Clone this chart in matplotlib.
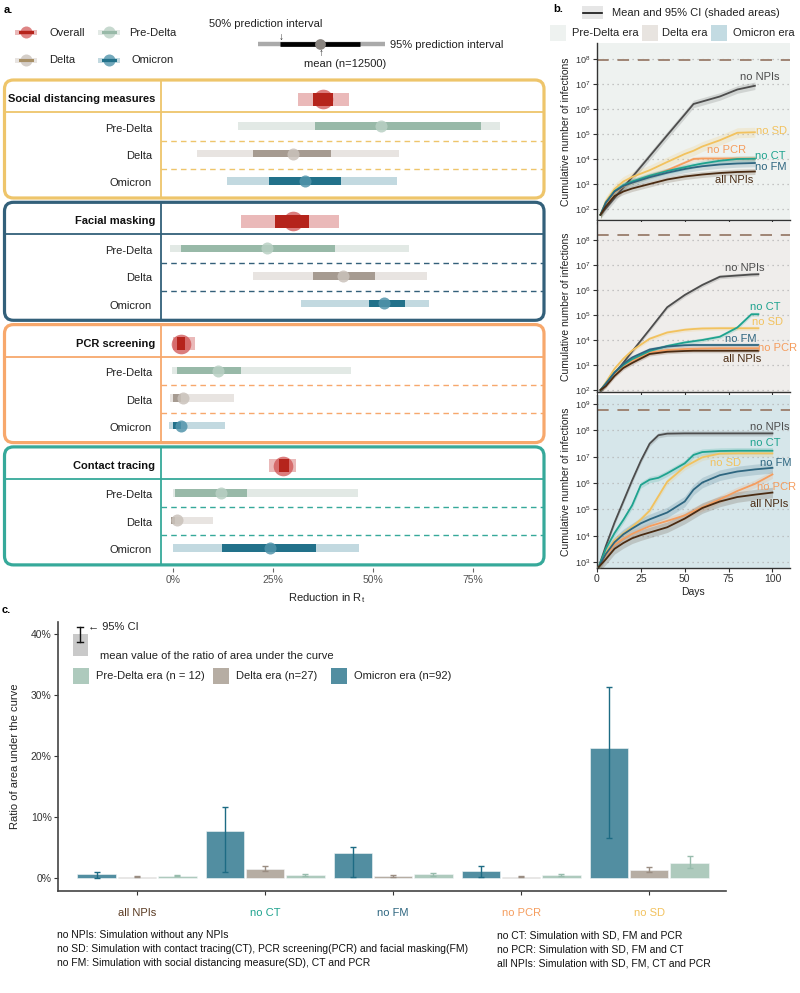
import matplotlib
matplotlib.use("Agg")
import matplotlib.pyplot as plt
import numpy as np
from matplotlib.patches import FancyBboxPatch, Rectangle

plt.rcParams['font.family'] = ['Liberation Sans', 'DejaVu Sans']
plt.rcParams['mathtext.fontset'] = 'custom'
plt.rcParams['mathtext.rm'] = 'Liberation Sans'

W, H = 800, 993

# ---------------- Panel a data (reduction in Rt, %) ----------------
measures = ["Social distancing measures", "Facial masking", "PCR screening", "Contact tracing"]
eras = ["Pre-Delta", "Delta", "Omicron"]
overall_mean = [37.5, 30.0, 2.0, 27.5]
overall_pi50 = [(35.0, 40.0), (25.5, 34.0), (1.0, 3.0), (26.5, 29.0)]
overall_pi95 = [(31.25, 44.0), (17.0, 41.5), (0.0, 5.5), (24.0, 30.75)]
era_mean = {"Pre-Delta": [52.0, 23.5, 11.25, 12.0],
            "Delta": [30.0, 42.5, 2.5, 1.0],
            "Omicron": [33.0, 52.75, 2.0, 24.25]}
era_pi50 = {"Pre-Delta": [(35.5, 77.0), (2.0, 40.5), (1.0, 17.0), (0.5, 18.5)],
            "Delta": [(20.0, 39.5), (35.0, 50.5), (0.0, 2.0), (-0.5, 0.5)],
            "Omicron": [(24.0, 42.0), (49.0, 58.0), (0.0, 2.0), (12.25, 35.75)]}
era_pi95 = {"Pre-Delta": [(16.25, 81.75), (-0.75, 59.0), (-0.25, 44.5), (0.0, 46.25)],
            "Delta": [(6.0, 56.5), (20.0, 63.5), (-0.75, 15.25), (-0.5, 10.0)],
            "Omicron": [(13.5, 56.0), (32.0, 64.0), (-1.0, 13.0), (0.0, 46.5)]}
xticks_a = [0, 25, 50, 75]
xticklabels_a = ["0%", "25%", "50%", "75%"]

# ---------------- Panel b data (log10 cumulative infections) ----------------
series_names = ["no NPIs", "no SD", "no PCR", "no CT", "no FM", "all NPIs"]
days_pre = [2, 5, 10, 15, 20, 30, 40, 50, 55, 60, 70, 80, 90]
log_pre = {
    "no NPIs": [1.77, 2.02, 2.44, 2.86, 3.27, 4.11, 4.95, 5.78, 6.2, 6.3, 6.5, 6.78, 6.93],
    "no SD": [1.77, 2.3, 2.8, 3.1, 3.28, 3.55, 3.88, 4.2, 4.33, 4.5, 4.75, 5.05, 5.07],
    "no PCR": [1.77, 2.2, 2.67, 2.9, 3.05, 3.3, 3.55, 3.85, 4.0, 4.02, 4.02, 4.02, 4.02],
    "no CT": [1.77, 2.25, 2.72, 2.95, 3.1, 3.33, 3.52, 3.67, 3.75, 3.82, 3.93, 4.0, 4.01],
    "no FM": [1.77, 2.25, 2.7, 2.92, 3.05, 3.27, 3.45, 3.6, 3.66, 3.71, 3.78, 3.82, 3.84],
    "all NPIs": [1.77, 2.1, 2.52, 2.7, 2.82, 3.0, 3.18, 3.3, 3.34, 3.38, 3.44, 3.48, 3.5],
}
ci_pre = {"no NPIs": 0.15, "no SD": 0.2, "no PCR": 0.1, "no CT": 0.12, "no FM": 0.15, "all NPIs": 0.12}
days_delta = [2, 5, 10, 15, 20, 30, 40, 50, 55, 60, 70, 80, 88, 92]
log_delta = {
    "no NPIs": [1.94, 2.2, 2.65, 3.09, 3.54, 4.42, 5.31, 5.8, 6.0, 6.2, 6.53, 6.58, 6.62, 6.63],
    "no SD": [2.0, 2.3, 2.85, 3.25, 3.58, 4.05, 4.3, 4.41, 4.44, 4.46, 4.47, 4.47, 4.47, 4.47],
    "no PCR": [2.0, 2.2, 2.63, 2.95, 3.17, 3.5, 3.6, 3.64, 3.65, 3.66, 3.67, 3.67, 3.67, 3.67],
    "no CT": [2.0, 2.25, 2.7, 3.0, 3.23, 3.56, 3.76, 3.9, 3.95, 4.0, 4.13, 4.5, 5.03, 5.03],
    "no FM": [2.0, 2.25, 2.7, 3.05, 3.3, 3.62, 3.74, 3.79, 3.8, 3.8, 3.8, 3.8, 3.8, 3.8],
    "all NPIs": [2.0, 2.15, 2.56, 2.88, 3.08, 3.44, 3.53, 3.56, 3.57, 3.57, 3.57, 3.57, 3.57, 3.57],
}
ci_delta = {"no NPIs": 0.08, "no SD": 0.08, "no PCR": 0.1, "no CT": 0.08, "no FM": 0.08, "all NPIs": 0.08}
days_omi = [1, 5, 10, 15, 20, 25, 30, 35, 40, 50, 55, 60, 70, 80, 90, 100]
log_omi = {
    "no NPIs": [2.81, 3.6, 4.5, 5.3, 6.1, 6.85, 7.5, 7.82, 7.88, 7.89, 7.89, 7.89, 7.89, 7.89, 7.89, 7.89],
    "no SD": [2.81, 3.35, 3.82, 4.08, 4.33, 4.62, 4.95, 5.5, 6.05, 6.62, 6.8, 6.98, 7.12, 7.13, 7.13, 7.13],
    "no PCR": [2.81, 3.25, 3.66, 3.88, 4.07, 4.22, 4.36, 4.46, 4.56, 4.77, 4.93, 5.08, 5.38, 5.7, 5.97, 6.33],
    "no CT": [2.81, 3.5, 4.1, 4.6, 5.15, 5.93, 6.13, 6.2, 6.37, 6.75, 7.07, 7.18, 7.22, 7.23, 7.23, 7.23],
    "no FM": [2.81, 3.3, 3.75, 4.05, 4.27, 4.47, 4.62, 4.75, 4.88, 5.3, 5.75, 6.02, 6.3, 6.44, 6.52, 6.58],
    "all NPIs": [2.81, 3.1, 3.5, 3.72, 3.9, 4.02, 4.12, 4.22, 4.32, 4.65, 4.85, 5.05, 5.3, 5.47, 5.56, 5.64],
}
ci_omi = {"no NPIs": 0.1, "no SD": 0.12, "no PCR": 0.15, "no CT": 0.12, "no FM": 0.2, "all NPIs": 0.2}
population = [9.5e7, 1.6e8, 5.9e8]

# ---------------- Panel c data (ratio of AUC, %) ----------------
cats = ["all NPIs", "no CT", "no FM", "no PCR", "no SD"]
omicron_mean = [0.71, 7.74, 4.03, 1.14, 21.3]
omicron_lo = [0.0, 0.98, 0.16, 0.1, 6.5]
omicron_hi = [1.0, 11.66, 5.12, 1.9, 31.3]
delta_mean = [0.2, 1.53, 0.33, 0.22, 1.3]
delta_lo = [0.1, 1.2, 0.2, 0.12, 0.93]
delta_hi = [0.3, 2.0, 0.49, 0.33, 1.8]
pre_mean = [0.4, 0.49, 0.6, 0.49, 2.45]
pre_lo = [0.25, 0.27, 0.38, 0.33, 1.63]
pre_hi = [0.55, 0.7, 0.87, 0.65, 3.65]

# ---------------- styles ----------------
box_colors = ["#eec56b", "#33607a", "#f7a86c", "#36a99a"]
era_style = {
    "Pre-Delta": dict(light="#e2e9e5", dark="#98b9a8", circ="#b9d0c4"),
    "Delta": dict(light="#e8e4e1", dark="#a69b91", circ="#cac2bb"),
    "Omicron": dict(light="#c2d9e0", dark="#22718a", circ="#5194ab"),
}
ov_light, ov_dark, ov_circ = "#eab9b9", "#b5241c", "#d05252"
line_colors = {"no NPIs": "#4d4d4d", "no SD": "#f2c25e", "no PCR": "#f59d5e",
               "no CT": "#1fa38f", "no FM": "#2e6680", "all NPIs": "#4a2b12"}
cat_colors = ["#5a3a22", "#1fa38f", "#2e6680", "#f59d5e", "#f2c25e"]
bg_colors = ["#eef2f0", "#efedeb", "#d6e6ea"]
c_omi, c_delta, c_pre = "#528ea1", "#b6ada3", "#aecabd"
e_omi, e_delta, e_pre = "#1d6b84", "#9a8d82", "#98bcad"

fig = plt.figure(figsize=(8, 9.93), dpi=100)


def ax_px(l, t, r, b, **kw):
    return fig.add_axes([l / W, 1 - b / H, (r - l) / W, (b - t) / H], **kw)


# ================= Panel a =================
A_TOP, A_BOT = 78, 568
ax_a = ax_px(3, A_TOP, 545, A_BOT)
ax_a.set_xlim(-42.5, 93)
ax_a.set_ylim(A_BOT, A_TOP)
for s in ax_a.spines.values():
    s.set_visible(False)
ax_a.set_yticks([])
ax_a.set_xticks(xticks_a)
ax_a.set_xticklabels(xticklabels_a, fontsize=7.5, color="#555555")
ax_a.tick_params(axis="x", length=3, color="#666666", pad=2)
ax_a.patch.set_alpha(0)

box_tops = [80 + 122.3 * i for i in range(len(measures))]
BOX_H = 118
row_off = [19, 46, 73.5, 101]
for i, m in enumerate(measures):
    top = box_tops[i]
    yh = top + row_off[0]
    lo95, hi95 = overall_pi95[i]
    lo50, hi50 = overall_pi50[i]
    ax_a.barh(yh, hi95 - lo95, left=lo95, height=13, color=ov_light, lw=0, zorder=2)
    ax_a.scatter([overall_mean[i]], [yh], s=200, color=ov_circ, alpha=0.75, lw=0, zorder=3)
    ax_a.barh(yh, hi50 - lo50, left=lo50, height=13, color=ov_dark, lw=0, zorder=4)
    for j, e in enumerate(eras):
        y = top + row_off[j + 1]
        st = era_style[e]
        l95, h95 = era_pi95[e][i]
        l50, h50 = era_pi50[e][i]
        ax_a.barh(y, h95 - l95, left=l95, height=7.5, color=st["light"], lw=0, zorder=2)
        ax_a.barh(y, h50 - l50, left=l50, height=7.5, color=st["dark"], lw=0, zorder=3)
        ax_a.scatter([era_mean[e][i]], [y], s=75, color=st["circ"], alpha=0.85, lw=0, zorder=4)

# ================= Panel b =================
b_rows = [(43, 220), (222, 392), (395, 568)]
b_ylims = [(10 ** 1.56, 10 ** 8.64), (10 ** 1.92, 10 ** 8.72), (10 ** 2.77, 10 ** 9.35)]
b_decades = [range(2, 9), range(2, 9), range(3, 10)]
b_data = [(days_pre, log_pre, ci_pre), (days_delta, log_delta, ci_delta), (days_omi, log_omi, ci_omi)]
b_axes = []
for k, (t, b) in enumerate(b_rows):
    ax = ax_px(597, t, 790, b)
    b_axes.append(ax)
    ax.set_facecolor(bg_colors[k])
    ax.set_yscale("log")
    ax.set_ylim(*b_ylims[k])
    ax.set_xlim(0, 110)
    dec = list(b_decades[k])
    ax.set_yticks([10.0 ** d for d in dec])
    ax.set_yticklabels([r"$10^{%d}$" % d for d in dec], fontsize=6.5, color="#333333")
    ax.yaxis.set_minor_locator(matplotlib.ticker.NullLocator())
    for d in dec:
        ax.axhline(10.0 ** d, color="#b5b5b5", lw=0.9, ls=(0, (1, 3)), zorder=1)
    ax.axhline(population[k], color="#9f8574", lw=1.4, ls=(0, (6, 4.5)), zorder=2)
    days, logs, cis = b_data[k]
    dd = np.array(days, dtype=float)
    for name in series_names:
        v = np.array(logs[name])
        c = line_colors[name]
        ax.fill_between(dd, 10 ** (v - cis[name]), 10 ** (v + cis[name]), color=c, alpha=0.18, lw=0, zorder=3)
        ax.plot(dd, 10 ** v, color=c, lw=1.3, zorder=4)
    for s in ["top", "right"]:
        ax.spines[s].set_visible(False)
    for s in ["left", "bottom"]:
        ax.spines[s].set_color("#333333")
        ax.spines[s].set_linewidth(1.0)
    ax.set_xticks([0, 25, 50, 75, 100])
    ax.tick_params(axis="both", length=3, color="#333333", pad=1.5)
    ax.set_ylabel("Cumulative number of infections", fontsize=7.5, color="#222222", labelpad=3)
    if k < 2:
        ax.set_xticklabels([])
    else:
        ax.set_xticklabels(["0", "25", "50", "75", "100"], fontsize=7.5, color="#333333")
        ax.set_xlabel("Days", fontsize=7.5, color="#222222", labelpad=2)

# ================= Panel c =================
ax_c = ax_px(58, 622, 726, 891)
x = np.arange(len(cats))
bw, off = 0.30, 0.315
groups = [(-off, omicron_mean, omicron_lo, omicron_hi, c_omi, e_omi),
          (0.0, delta_mean, delta_lo, delta_hi, c_delta, e_delta),
          (off, pre_mean, pre_lo, pre_hi, c_pre, e_pre)]
for dx, mean, lo, hi, col, ecol in groups:
    mean = np.array(mean)
    ax_c.bar(x + dx, mean, width=bw, color=col, edgecolor="#f4f7f8", lw=0.4, zorder=2)
    yerr = np.vstack([mean - np.array(lo), np.array(hi) - mean])
    ax_c.errorbar(x + dx, mean, yerr=yerr, fmt="none", ecolor=ecol, elinewidth=1.0, capsize=2, capthick=1.0, zorder=3)
ax_c.set_xlim(-0.617, 4.60)
ax_c.set_ylim(-2.13, 41.97)
ax_c.set_yticks([0, 10, 20, 30, 40])
ax_c.set_yticklabels(["0%", "10%", "20%", "30%", "40%"], fontsize=7.5, color="#333333")
ax_c.set_xticks(x)
ax_c.set_xticklabels(cats, fontsize=8)
for lbl, c in zip(ax_c.get_xticklabels(), cat_colors):
    lbl.set_color(c)
ax_c.tick_params(axis="x", length=3, color="#333333", pad=9)
ax_c.tick_params(axis="y", length=3, color="#333333", pad=1.5)
for s in ["top", "right"]:
    ax_c.spines[s].set_visible(False)
for s in ["left", "bottom"]:
    ax_c.spines[s].set_color("#444444")
    ax_c.spines[s].set_linewidth(1.2)
ax_c.patch.set_alpha(0)
ax_c.set_ylabel("Ratio of area under the curve", fontsize=8, color="#222222", labelpad=8)

# ================= Overlay (pixel coordinates) =================
ov = fig.add_axes([0, 0, 1, 1], zorder=10)
ov.set_xlim(0, W)
ov.set_ylim(H, 0)
ov.axis("off")
ov.patch.set_alpha(0)

FS = 8
ov.text(4, 10, "a.", fontsize=FS, fontweight="bold", va="center", ha="left")
ov.text(553, 9, "b.", fontsize=FS, fontweight="bold", va="center", ha="left")
ov.text(2, 610, "c.", fontsize=FS, fontweight="bold", va="center", ha="left")

# panel a boxes
for i, m in enumerate(measures):
    top = box_tops[i]
    col = box_colors[i]
    ov.add_patch(FancyBboxPatch((4.5, top), 539.5, BOX_H, boxstyle="round,pad=0,rounding_size=9",
                                fill=False, edgecolor=col, lw=2.3))
    ov.plot([161, 161], [top, top + BOX_H], color=col, lw=1.3)
    ov.plot([4.5, 544], [top + 32, top + 32], color=col, lw=1.3)
    for yy in (top + 60.5, top + 88.5):
        ov.plot([161, 544], [yy, yy], color=col, lw=1.0, ls=(0, (4, 3)))
    ov.text(155, top + row_off[0], m, fontsize=FS, fontweight="bold", ha="right", va="center", color="#111111")
    for j, e in enumerate(eras):
        ov.text(152, top + row_off[j + 1] + 2.5, e, fontsize=FS, ha="right", va="center", color="#222222")

ov.text(327, 598, "Reduction in R$_\\mathregular{t}$", fontsize=FS, ha="center", va="center", color="#222222")

# panel a legend glyphs
def glyph(xc, yc, light, dark, circ, alpha):
    ov.add_patch(Rectangle((xc - 11, yc - 2.5), 22, 5, color=light, lw=0, zorder=2))
    ov.scatter([xc], [yc], s=75, color=circ, alpha=alpha, lw=0, zorder=3)
    ov.add_patch(Rectangle((xc - 7.5, yc - 1.5), 15, 3, color=dark, lw=0, zorder=4))

glyph(26, 32, ov_light, ov_dark, ov_circ, 0.7)
glyph(109, 32, era_style["Pre-Delta"]["light"], era_style["Pre-Delta"]["dark"], era_style["Pre-Delta"]["circ"], 0.8)
glyph(26, 60, era_style["Delta"]["light"], "#a89066", era_style["Delta"]["circ"], 0.8)
glyph(109, 60, era_style["Omicron"]["light"], era_style["Omicron"]["dark"], era_style["Omicron"]["circ"], 0.8)
ov.text(49, 33, "Overall", fontsize=FS, va="center", ha="left", color="#222222")
ov.text(129, 33, "Pre-Delta", fontsize=FS, va="center", ha="left", color="#222222")
ov.text(49, 60, "Delta", fontsize=FS, va="center", ha="left", color="#222222")
ov.text(131, 60, "Omicron", fontsize=FS, va="center", ha="left", color="#222222")

# interval legend
ov.plot([258, 385], [44, 44], color="#aaaaaa", lw=3.2, solid_capstyle="butt")
ov.plot([280, 360], [44, 44], color="#000000", lw=3.4, solid_capstyle="butt")
ov.scatter([320], [44], s=60, color="#8a8580", lw=0, zorder=5)
ov.text(266, 24, "50% prediction interval", fontsize=FS, ha="center", va="center", color="#222222")
ov.text(281, 37, "\u2193", fontsize=7, ha="center", va="center", color="#222222")
ov.text(321, 53, "\u2191", fontsize=7, ha="center", va="center", color="#222222")
ov.text(345, 64, "mean (n=12500)", fontsize=FS, ha="center", va="center", color="#222222")
ov.text(390, 45, "95% prediction interval", fontsize=FS, ha="left", va="center", color="#222222")

# panel b legend
ov.add_patch(Rectangle((582, 6), 21, 13, color="#e6e6e6", lw=0))
ov.plot([583, 602], [12.5, 12.5], color="#111111", lw=1.2)
ov.text(612, 13, "Mean and 95% CI (shaded areas)", fontsize=FS, ha="left", va="center", color="#222222")
for xs, tx, lab, c in [(550, 572, "Pre-Delta era", bg_colors[0]), (642, 662, "Delta era", "#e8e4e0"),
                       (711, 733, "Omicron era", "#c3dbe2")]:
    ov.add_patch(Rectangle((xs, 25), 16, 16, color=c, lw=0))
    ov.text(tx, 33, lab, fontsize=FS, ha="left", va="center", color="#222222")

# panel b curve labels
curve_labels = [
    [("no NPIs", 740, 77), ("no SD", 756, 131), ("no PCR", 707, 150), ("no CT", 755, 156), ("no FM", 755, 167), ("all NPIs", 715, 180)],
    [("no NPIs", 725, 268), ("no CT", 750, 307), ("no SD", 752, 322), ("no FM", 725, 339), ("no PCR", 758, 348), ("all NPIs", 723, 359)],
    [("no NPIs", 750, 427), ("no CT", 750, 443), ("no SD", 710, 463), ("no FM", 760, 463), ("no PCR", 757, 487), ("all NPIs", 750, 504)],
]
for lst in curve_labels:
    for name, lx, ly in lst:
        ov.text(lx, ly, name, fontsize=FS, ha="left", va="center", color=line_colors[name])

# panel c legend
ov.add_patch(Rectangle((73, 634), 15, 22, color="#c9c9c9", lw=0))
ov.plot([80, 80], [627, 642], color="#111111", lw=1.0)
ov.plot([77, 83], [627, 627], color="#111111", lw=1.0)
ov.plot([77, 83], [642, 642], color="#111111", lw=1.0)
ov.text(88, 627, "\u2190 95% CI", fontsize=FS, ha="left", va="center", color="#222222")
ov.text(100, 656, "mean value of the ratio of area under the curve", fontsize=FS, ha="left", va="center", color="#222222")
for xs, lab, c in [(73, "Pre-Delta era (n = 12)", c_pre), (213, "Delta era (n=27)", c_delta), (331, "Omicron era (n=92)", c_omi)]:
    ov.add_patch(Rectangle((xs, 668), 16, 16, color=c, lw=0))
    ov.text(xs + 23, 676, lab, fontsize=FS, ha="left", va="center", color="#222222")

# footer
foot_left = ["no NPIs: Simulation without any NPIs",
             "no SD: Simulation with contact tracing(CT), PCR screening(PCR) and facial masking(FM)",
             "no FM: Simulation with social distancing measure(SD), CT and PCR"]
foot_right = ["no CT: Simulation with SD, FM and PCR",
              "no PCR: Simulation with SD, FM and CT",
              "all NPIs: Simulation with SD, FM, CT and PCR"]
for i, t in enumerate(foot_left):
    ov.text(57, 935 + 14 * i, t, fontsize=7.5, ha="left", va="center", color="#111111")
for i, t in enumerate(foot_right):
    ov.text(497, 935 + 14 * i, t, fontsize=7.5, ha="left", va="center", color="#111111")

fig.savefig("out.png", dpi=100)
